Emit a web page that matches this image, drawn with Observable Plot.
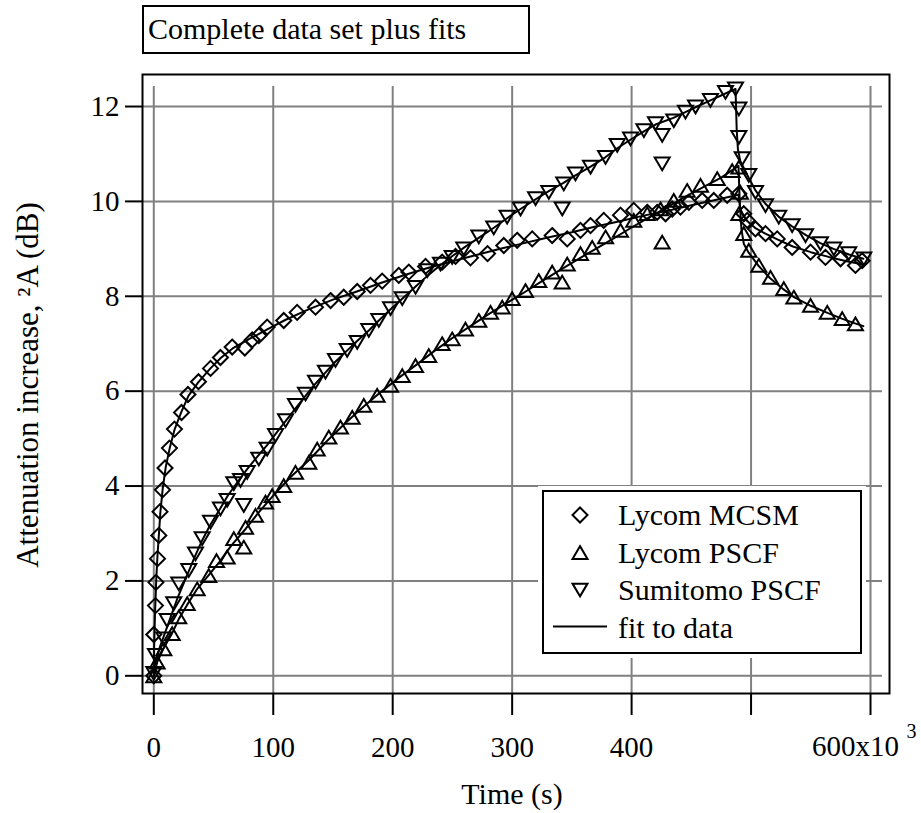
<!DOCTYPE html>
<html>
<head>
<meta charset="utf-8">
<script src="https://cdn.jsdelivr.net/npm/d3@7"></script>
<script src="https://cdn.jsdelivr.net/npm/@observablehq/plot@0.6"></script>
<style>
  body { margin: 0; background: #fff; }
  #wrap { position: relative; width: 921px; height: 813px; font-family: "Liberation Serif", "Times New Roman", serif; color: #000; }
  #wrap svg.chart { position: absolute; left: 0; top: 0; }
  #title { position: absolute; left: 142px; top: 5px; width: 388px; height: 49px; box-sizing: border-box;
           border: 2px solid #000; background: #fff; font-size: 30px; line-height: 44px; padding-left: 4px; white-space: nowrap; }
  #legend { position: absolute; left: 542px; top: 490px; width: 320px; height: 164px; box-sizing: border-box;
            background: #fff; box-shadow: 0 0 0 4px #fff; }
  #legend svg { position: absolute; left: 0; top: 0; overflow: visible; }
</style>
</head>
<body>
<div id="wrap">
  <div id="title">Complete data set plus fits</div>
  <div id="legend"></div>
</div>
<script>
// ---------- Data (time in 10^3 s, attenuation increase in dB) ----------
const seriesNames = ["Lycom MCSM", "Lycom PSCF", "Sumitomo PSCF"];
const fitName = "fit to data";

const mcsmT = [0, 0, 1.4, 1.8, 3.1, 4.2, 5.2, 7.3, 9.4, 13.1, 17.3, 23.2, 28.6, 37.4, 47.5, 55.8, 65.6, 76.2, 82.4, 87.9, 94.9, 108.8, 120, 135.4, 148, 159, 170.3, 181.4, 191.2, 205.1, 213.5, 227.5, 241.4, 252.6, 265.1, 279.4, 293, 304.2, 316.8, 333.5, 346.1, 357.2, 365.6, 376.7, 390.7, 401.8, 413.1, 421.4, 428.4, 434, 440.9, 447.9, 459.1, 468.8, 480, 489.8, 493.9, 496.8, 503.7, 512.1, 521.9, 534.4, 549.8, 562.3, 574.9, 587.4, 593];
const mcsmA = [0, 0.87, 1.48, 1.97, 2.47, 2.96, 3.46, 3.92, 4.38, 4.8, 5.2, 5.55, 5.93, 6.2, 6.48, 6.71, 6.93, 6.91, 7.08, 7.17, 7.35, 7.49, 7.66, 7.77, 7.91, 7.98, 8.10, 8.23, 8.32, 8.44, 8.51, 8.63, 8.72, 8.84, 8.81, 8.9, 9.07, 9.18, 9.21, 9.28, 9.21, 9.39, 9.49, 9.6, 9.71, 9.81, 9.77, 9.77, 9.74, 9.84, 9.88, 9.98, 10.02, 10.02, 10.13, 10.16, 9.74, 9.6, 9.42, 9.32, 9.21, 9.03, 8.93, 8.82, 8.79, 8.65, 8.75];

const pscfT = [0, 2.8, 8.4, 15.4, 20.9, 28, 36.3, 46, 52.5, 61.4, 67, 75.3, 76.8, 85.1, 93.5, 99.1, 108.8, 118.6, 129.8, 136.8, 146.5, 156.3, 166.1, 175.8, 187, 198.2, 208, 219.1, 230.2, 241.4, 249.8, 260.9, 272.1, 281.9, 291.7, 300, 311.2, 322.3, 333.5, 341.9, 346.1, 357.2, 367, 378.2, 390.7, 401.8, 413.1, 424.2, 425.6, 435.3, 446.5, 457.7, 471.7, 484.2, 489.8, 491.1, 489.8, 493.9, 498.1, 506.5, 516.3, 527.4, 535.8, 549.8, 563.8, 576.3, 587.4];
const pscfA = [0, 0.29, 0.57, 0.89, 1.24, 1.52, 1.83, 2.11, 2.43, 2.5, 2.89, 2.71, 3.13, 3.38, 3.66, 3.8, 4.01, 4.29, 4.5, 4.78, 5.03, 5.24, 5.45, 5.7, 5.91, 6.12, 6.33, 6.54, 6.75, 7.0, 7.1, 7.31, 7.49, 7.66, 7.77, 7.95, 8.12, 8.33, 8.51, 8.3, 8.68, 8.9, 9.03, 9.25, 9.39, 9.6, 9.74, 9.84, 9.14, 10.02, 10.23, 10.34, 10.48, 10.65, 10.72, 10.19, 9.74, 9.32, 8.97, 8.65, 8.4, 8.16, 7.98, 7.81, 7.66, 7.53, 7.42];

const sumT = [0, 1.4, 8.4, 11.2, 16.7, 20.9, 29.3, 34.9, 40.5, 47.5, 55.8, 61.4, 67, 72.6, 75.3, 78.2, 87.9, 94.9, 101.9, 110.3, 118.6, 127, 135.4, 143.7, 152.1, 161.9, 170.3, 180, 188.4, 198.2, 208, 219.1, 228.9, 240, 249.8, 259.5, 272.1, 284.6, 295.8, 307, 319.6, 330.7, 341.9, 343.2, 353, 365.6, 378.2, 388, 399.1, 410.3, 420, 425.6, 425.6, 435.3, 445.1, 453.5, 466, 478.6, 487, 489.8, 489.8, 492.6, 498.1, 503.7, 512.1, 523.2, 534.4, 545.6, 558.1, 569.3, 581.8, 594.4];
const sumA = [0.05, 0.43, 0.78, 1.17, 1.52, 1.94, 2.22, 2.57, 2.89, 3.24, 3.52, 3.7, 4.05, 4.12, 3.59, 4.29, 4.57, 4.78, 5.07, 5.38, 5.7, 5.94, 6.19, 6.4, 6.65, 6.86, 7.03, 7.28, 7.49, 7.74, 7.95, 8.19, 8.54, 8.68, 8.82, 9.0, 9.25, 9.44, 9.67, 9.84, 10.06, 10.19, 9.84, 10.37, 10.58, 10.72, 10.93, 11.18, 11.32, 11.49, 11.64, 11.39, 10.79, 11.7, 11.88, 11.99, 12.13, 12.3, 12.37, 11.95, 11.35, 10.9, 10.55, 10.19, 9.91, 9.67, 9.49, 9.28, 9.11, 9.0, 8.9, 8.79];

// fitted curves
const mcsmFitT = [0, 0.3, 1, 2, 3, 4.2, 5.5, 7.5, 10, 13.5, 17.5, 23, 29, 37, 47, 56, 66, 80, 95, 110, 130, 150, 170, 190, 210, 230, 250, 270, 290, 310, 330, 350, 370, 390, 410, 430, 450, 470, 489.5, 491, 493, 497, 504, 512, 522, 535, 550, 565, 580, 594];
const mcsmFitA = [0, 0.6, 1.3, 2.0, 2.5, 2.95, 3.45, 3.95, 4.4, 4.82, 5.2, 5.56, 5.9, 6.18, 6.47, 6.7, 6.9, 7.1, 7.3, 7.5, 7.73, 7.93, 8.1, 8.28, 8.45, 8.6, 8.74, 8.87, 9.0, 9.12, 9.24, 9.35, 9.47, 9.58, 9.7, 9.8, 9.92, 10.03, 10.14, 9.85, 9.72, 9.58, 9.43, 9.32, 9.2, 9.05, 8.93, 8.83, 8.74, 8.67];

const pscfFitT = [0, 3, 8, 15, 21, 28, 36, 46, 55, 65, 77, 88, 100, 115, 130, 145, 160, 175, 190, 205, 220, 235, 250, 265, 280, 295, 310, 325, 340, 355, 370, 385, 400, 415, 430, 445, 460, 475, 489.5, 490.5, 492, 494, 498, 506, 516, 527, 536, 550, 564, 576, 587, 594];
const pscfFitA = [0, 0.3, 0.57, 0.88, 1.2, 1.5, 1.82, 2.12, 2.4, 2.75, 3.1, 3.45, 3.8, 4.2, 4.55, 4.95, 5.32, 5.66, 5.98, 6.28, 6.56, 6.85, 7.12, 7.37, 7.62, 7.85, 8.08, 8.32, 8.55, 8.78, 9.0, 9.22, 9.45, 9.67, 9.88, 10.1, 10.3, 10.5, 10.75, 10.0, 9.4, 9.1, 8.92, 8.65, 8.38, 8.15, 7.98, 7.8, 7.65, 7.53, 7.43, 7.37];

const sumFitT = [0, 2, 5, 10, 15, 20, 25, 30, 35, 40, 47, 55, 62, 70, 78, 86, 95, 102, 110, 119, 127, 135, 144, 152, 162, 170, 180, 188, 198, 208, 219, 229, 240, 250, 260, 272, 285, 296, 307, 320, 331, 343, 353, 366, 378, 388, 399, 410, 420, 435, 445, 454, 466, 479, 487, 488, 489, 491, 495, 498, 504, 512, 523, 534, 546, 558, 569, 582, 594];
const sumFitA = [0, 0.35, 0.6, 0.95, 1.3, 1.65, 1.95, 2.25, 2.55, 2.83, 3.17, 3.5, 3.8, 4.08, 4.35, 4.6, 4.87, 5.1, 5.36, 5.65, 5.9, 6.15, 6.4, 6.62, 6.86, 7.05, 7.28, 7.48, 7.72, 7.95, 8.2, 8.43, 8.66, 8.85, 9.03, 9.23, 9.45, 9.65, 9.84, 10.05, 10.22, 10.39, 10.55, 10.74, 10.93, 11.12, 11.3, 11.47, 11.62, 11.76, 11.88, 11.99, 12.13, 12.28, 12.37, 11.5, 11.1, 10.85, 10.65, 10.5, 10.22, 9.95, 9.68, 9.48, 9.29, 9.12, 9.0, 8.88, 8.79];

// axis ticks and labels
const xTicks = [0, 100, 200, 300, 400, 500, 600];
const xTickLabels = ["0", "100", "200", "300", "400", "", ""];
const xLastLabel = "600x10";
const xLastExponent = "3";
const yTicks = [0, 2, 4, 6, 8, 10, 12];
const xTitle = "Time (s)";
const yTitle = "Attenuation increase, \u00B2A (dB)";
const xDomain = [-9.46, 615.9];
const yDomain = [-0.373, 12.675];
const gridXEnd = 610;     // horizontal grid lines stop here
const gridYEnd = 12.42;   // vertical grid lines stop here

// ---------- build tables ----------
const zip = (T, A, name) => T.map((t, i) => ({t, a: A[i], name}));
const mcsm = zip(mcsmT, mcsmA, seriesNames[0]);
const pscf = zip(pscfT, pscfA, seriesNames[1]);
const sumi = zip(sumT, sumA, seriesNames[2]);
const mcsmFit = zip(mcsmFitT, mcsmFitA, seriesNames[0]);
const pscfFit = zip(pscfFitT, pscfFitA, seriesNames[1]);
const sumFit = zip(sumFitT, sumFitA, seriesNames[2]);

// ---------- custom hollow marker symbols ----------
const R = 7.5;
const diamond = {draw(ctx, size) { const r = Math.sqrt(size / Math.PI);
  ctx.moveTo(0, -r); ctx.lineTo(r, 0); ctx.lineTo(0, r); ctx.lineTo(-r, 0); ctx.closePath(); }};
const triUp = {draw(ctx, size) { const r = Math.sqrt(size / Math.PI);
  ctx.moveTo(0, -0.85 * r); ctx.lineTo(r, 0.85 * r); ctx.lineTo(-r, 0.85 * r); ctx.closePath(); }};
const triDown = {draw(ctx, size) { const r = Math.sqrt(size / Math.PI);
  ctx.moveTo(0, 0.85 * r); ctx.lineTo(r, -0.85 * r); ctx.lineTo(-r, -0.85 * r); ctx.closePath(); }};

const dotStyle = {x: "t", y: "a", r: R, fill: "none", stroke: "#000", strokeWidth: 2};
const fitStyle = {x: "t", y: "a", stroke: "#000", strokeWidth: 2};

const chart = Plot.plot({
  width: 921, height: 813,
  marginLeft: 142, marginRight: 32, marginTop: 74, marginBottom: 120,
  style: {fontFamily: "'Liberation Serif', 'Times New Roman', serif", fontSize: "29px", background: "transparent", overflow: "visible"},
  x: {domain: xDomain},
  y: {domain: yDomain},
  marks: [
    Plot.ruleX(xTicks, {x: d => d, y1: yDomain[0], y2: gridYEnd, stroke: "#808080", strokeWidth: 2}),
    Plot.ruleY(yTicks, {y: d => d, x1: xDomain[0], x2: gridXEnd, stroke: "#808080", strokeWidth: 2}),
    Plot.dot(mcsm, {...dotStyle, symbol: diamond}),
    Plot.dot(pscf, {...dotStyle, symbol: triUp}),
    Plot.dot(sumi, {...dotStyle, symbol: triDown}),
    Plot.line(mcsmFit, fitStyle),
    Plot.line(pscfFit, fitStyle),
    Plot.line(sumFit, fitStyle),
    Plot.frame({stroke: "#000", strokeWidth: 2}),
    Plot.axisX({ticks: xTicks, tickSize: 22, tickPadding: 21, strokeWidth: 2, stroke: "#000",
                tickFormat: (d) => xTickLabels[xTicks.indexOf(d)], fontSize: 29, label: null}),
    Plot.axisY({ticks: yTicks, tickSize: 17, tickPadding: 6, strokeWidth: 2, stroke: "#000",
                tickFormat: d => String(d), fontSize: 29, label: null}),
    Plot.text([xLastLabel], {x: xTicks[xTicks.length - 1], frameAnchor: "bottom", text: d => d,
                dx: -15, dy: 62, lineAnchor: "bottom", fontSize: 29, fill: "#000"}),
    Plot.text([xLastExponent], {x: xTicks[xTicks.length - 1], frameAnchor: "bottom", text: d => d,
                dx: 41, dy: 44, lineAnchor: "bottom", fontSize: 20, fill: "#000"}),
    Plot.text([xTitle], {frameAnchor: "bottom", text: d => d, dx: -4, dy: 110, lineAnchor: "bottom", fontSize: 30, fill: "#000"}),
    Plot.text([yTitle], {frameAnchor: "left", text: d => d, rotate: -90, textAnchor: "middle",
                dx: -105, dy: 1, lineAnchor: "bottom", fontSize: 31, fill: "#000"})
  ]
});
chart.classList.add("chart");
document.getElementById("wrap").prepend(chart);

// ---------- legend ----------
const legendEntries = [
  {label: seriesNames[0], sym: diamond},
  {label: seriesNames[1], sym: triUp},
  {label: seriesNames[2], sym: triDown},
  {label: fitName, sym: null}
];
const lw = 320, lh = 164;
const lsvg = d3.create("svg").attr("width", lw).attr("height", lh)
  .style("font-family", "'Liberation Serif', 'Times New Roman', serif").style("font-size", "30px");
lsvg.append("rect").attr("x", 1).attr("y", 1).attr("width", lw - 2).attr("height", lh - 2)
  .attr("fill", "#fff").attr("stroke", "#000").attr("stroke-width", 2);
legendEntries.forEach((e, i) => {
  const cy = 25 + i * 37.5;
  if (e.sym) {
    lsvg.append("path").attr("transform", `translate(38,${cy})`)
      .attr("d", d3.symbol(e.sym, R * R * Math.PI)())
      .attr("fill", "none").attr("stroke", "#000").attr("stroke-width", 2);
  } else {
    lsvg.append("line").attr("x1", 11).attr("x2", 65).attr("y1", cy - 1).attr("y2", cy - 1)
      .attr("stroke", "#000").attr("stroke-width", 2);
  }
  lsvg.append("text").attr("x", 76).attr("y", cy + 10).text(e.label);
});
document.getElementById("legend").append(lsvg.node());
</script>
</body>
</html>
